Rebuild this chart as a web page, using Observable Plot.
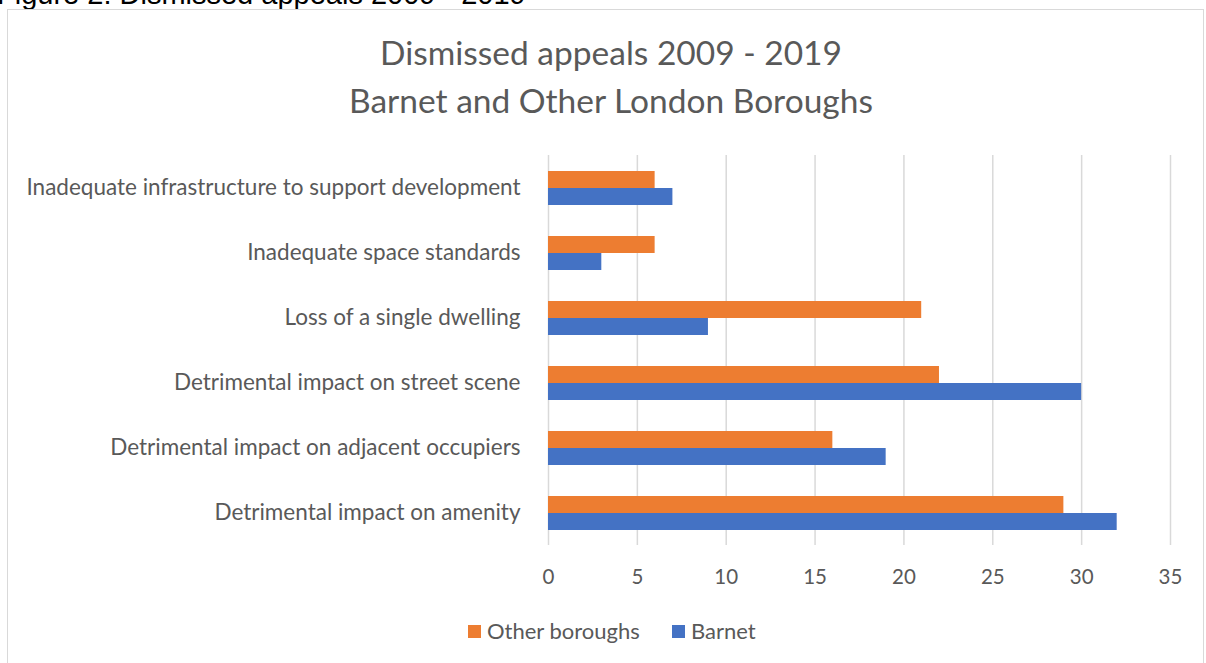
<!DOCTYPE html>
<html>
<head>
<meta charset="utf-8">
<script src="https://cdn.jsdelivr.net/npm/d3@7"></script>
<script src="https://cdn.jsdelivr.net/npm/@observablehq/plot@0.6"></script>
<style>
  html, body { margin: 0; padding: 0; background: #fff; }
  #root { position: relative; width: 1206px; height: 663px; overflow: hidden; font-family: Lato, "Open Sans", sans-serif; color: #595959; }
  #fig { position: absolute; left: -3px; top: -20px; font-family: "Liberation Sans", Arial, sans-serif; font-size: 29px; line-height: 29px; color: #000; white-space: nowrap; }
  #frame { position: absolute; left: 7px; top: 9px; width: 1197px; height: 670px; border: 1px solid #d9d9d9; box-sizing: border-box; }
  .title { position: absolute; left: 0; width: 1222px; text-align: center; font-size: 33.5px; line-height: 40px; white-space: nowrap; }
  #chart { position: absolute; left: 0; top: 0; }
  .leg { position: absolute; top: 620px; font-size: 22px; line-height: 22px; display: flex; align-items: center; white-space: nowrap; }
  .sw { width: 13px; height: 13px; margin-right: 6px; display: inline-block; }
</style>
</head>
<body>
<div id="root">
  <div id="fig">Figure 2: Dismissed appeals 2009 - 2019</div>
  <div id="frame"></div>
  <div id="chart"></div>
  <div class="title" style="top:32px">Dismissed appeals 2009 - 2019</div>
  <div class="title" style="top:80px">Barnet and Other London Boroughs</div>
  <div class="leg" style="left:468px"><span class="sw" style="background:#ED7D31"></span>Other boroughs</div>
  <div class="leg" style="left:672px"><span class="sw" style="background:#4472C4"></span>Barnet</div>
</div>
<script>
const categories = [
  "Inadequate infrastructure to support development",
  "Inadequate space standards",
  "Loss of a single dwelling",
  "Detrimental impact on street scene",
  "Detrimental impact on adjacent occupiers",
  "Detrimental impact on amenity"
];
const series = ["Other boroughs", "Barnet"];
const otherBoroughs = [6, 6, 21, 22, 16, 29];
const barnet = [7, 3, 9, 30, 19, 32];
const xTicks = [0, 5, 10, 15, 20, 25, 30, 35];
const colors = ["#ED7D31", "#4472C4"];

const data = [];
categories.forEach((c, i) => {
  data.push({category: c, series: series[0], value: otherBoroughs[i]});
  data.push({category: c, series: series[1], value: barnet[i]});
});

const chart = Plot.plot({
  width: 1206,
  height: 600,
  marginLeft: 548,
  marginRight: 36,
  marginTop: 153,
  marginBottom: 53,
  style: {fontFamily: "Lato, 'Open Sans', sans-serif", fontSize: "20px", color: "#595959", background: "transparent"},
  x: {domain: [0, 35], label: null, axis: null},
  fy: {domain: categories, paddingInner: 0, paddingOuter: 0, label: null, axis: null},
  y: {domain: series, paddingInner: 0, paddingOuter: 0.88, axis: null},
  color: {domain: series, range: colors},
  marks: [
    Plot.ruleX(xTicks, {stroke: "#d9d9d9", strokeWidth: 1.5}),
    Plot.barX(data, {x: "value", y: "series", fy: "category", fill: "series", inset: 0}),
    Plot.axisX({anchor: "bottom", ticks: xTicks, tickSize: 0, tickPadding: 24, fontSize: 20.5, label: null}),
    Plot.axisFy({anchor: "left", tickSize: 0, tickPadding: 28, fontSize: 22.5, label: null})
  ]
});
document.getElementById("chart").appendChild(chart);
</script>
</body>
</html>
